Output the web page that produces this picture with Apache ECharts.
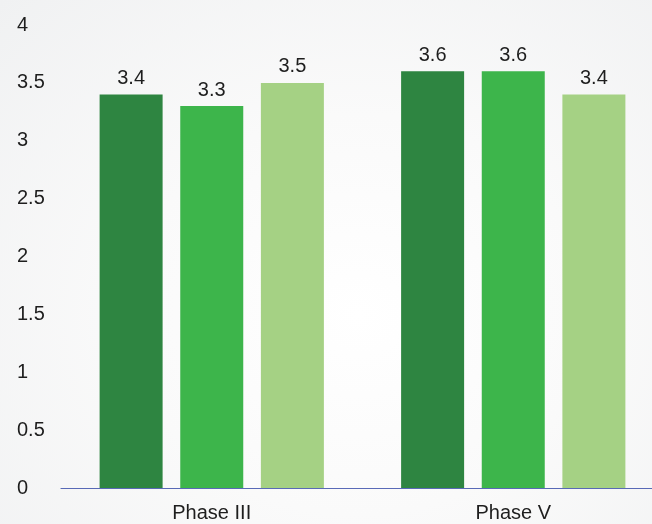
<!DOCTYPE html>
<html>
<head>
<meta charset="utf-8">
<style>
  html, body { margin: 0; padding: 0; }
  body {
    width: 652px; height: 524px; overflow: hidden;
    background: radial-gradient(ellipse at 55% 60%, #ffffff 0%, #fafafa 45%, #f0f1f2 100%);
  }
  /* the plot runs a little past the right edge of the page */
  #chart { width: 664px; height: 524px; }
</style>
<script src="https://cdn.jsdelivr.net/npm/echarts@6/dist/echarts.min.js"></script>
</head>
<body>
<div id="chart"></div>
<script>
// Categories along the x axis
const categories = ['Phase III', 'Phase V'];

// Three grouped series, one value per phase
const seriesNames = ['Group 1', 'Group 2', 'Group 3'];
const group1 = [3.4, 3.6];
const group2 = [3.3, 3.6];
const group3 = [3.5, 3.4];

// Value axis ticks
const yTicks = [0, 0.5, 1, 1.5, 2, 2.5, 3, 3.5, 4];

const colors = ['#2e8541', '#3db54b', '#a5d184'];
const font = "'Liberation Sans', Arial, sans-serif";

const chart = echarts.init(document.getElementById('chart'), null, { renderer: 'canvas' });

const seriesData = [group1, group2, group3];

chart.setOption({
  backgroundColor: 'transparent',
  animation: false,
  textStyle: { fontFamily: font },
  grid: { left: 61, right: 0, top: 25, bottom: 36 },
  xAxis: {
    type: 'category',
    data: categories,
    z: 5,
    axisLine: { show: true, lineStyle: { color: 'rgba(60,80,170,0.85)', width: 1.2 } },
    axisTick: { show: false },
    axisLabel: { color: '#1e1e1e', fontSize: 20, fontFamily: font, margin: 15 },
    splitLine: { show: false }
  },
  yAxis: {
    type: 'value',
    min: yTicks[0],
    max: yTicks[yTicks.length - 1],
    interval: yTicks[1] - yTicks[0],
    axisLine: { show: false },
    axisTick: { show: false },
    splitLine: { show: false },
    axisLabel: {
      color: '#1e1e1e', fontSize: 20, fontFamily: font,
      align: 'left', margin: 44, padding: [0, 0, 4, 0],
      formatter: v => String(v)
    }
  },
  series: seriesData.map((d, i) => ({
    name: seriesNames[i],
    type: 'bar',
    data: d,
    barWidth: 63,
    barGap: '28%',
    itemStyle: { color: colors[i] },
    label: {
      show: true,
      position: 'top',
      distance: 6,
      color: '#1e1e1e',
      fontSize: 20,
      fontFamily: font,
      formatter: p => p.value.toFixed(1)
    }
  }))
});
</script>
</body>
</html>
